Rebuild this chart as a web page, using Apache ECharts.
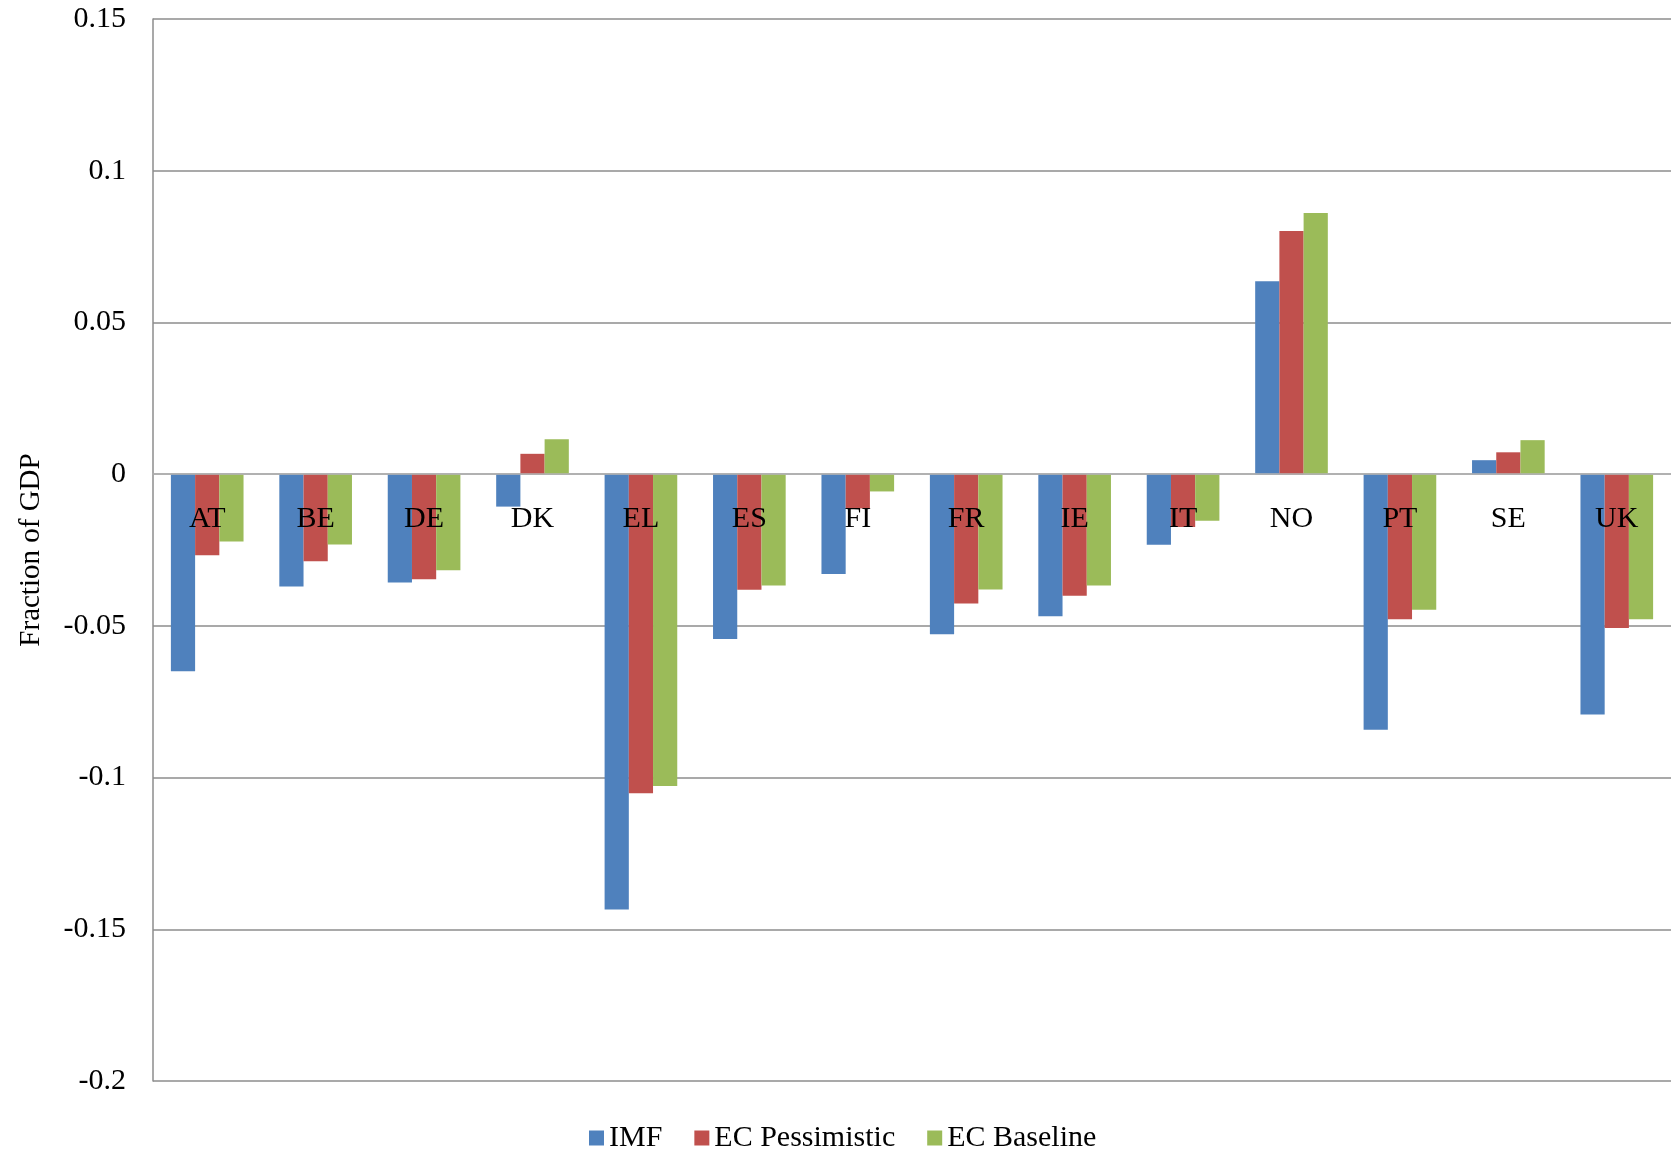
<!DOCTYPE html>
<html>
<head>
<meta charset="utf-8">
<title>Fraction of GDP</title>
<script src="https://cdn.jsdelivr.net/npm/echarts@6/dist/echarts.min.js"></script>
<style>
  html, body { margin: 0; padding: 0; background: #fff; }
  #chart { width: 1671px; height: 1155px; }
</style>
</head>
<body>
<div id="chart"></div>
<script>
// country codes along the x axis
const countries = ['AT', 'BE', 'DE', 'DK', 'EL', 'ES', 'FI', 'FR', 'IE', 'IT', 'NO', 'PT', 'SE', 'UK']

// values (fraction of GDP)
const imf = [-0.065, -0.037, -0.0357, -0.0107, -0.1435, -0.0543, -0.0329, -0.0528, -0.0468, -0.0233, 0.0636, -0.0842, 0.0046, -0.0792]
const ecPessimistic = [-0.0267, -0.0287, -0.0346, 0.0067, -0.1052, -0.0381, -0.0113, -0.0426, -0.0401, -0.0174, 0.0801, -0.0478, 0.0072, -0.0507]
const ecBaseline = [-0.0222, -0.0232, -0.0317, 0.0115, -0.1028, -0.0367, -0.0057, -0.038, -0.0367, -0.0154, 0.0861, -0.0447, 0.0112, -0.0478]

const font = 'Liberation Serif, Times New Roman, serif'

const chart = echarts.init(document.getElementById('chart'))

const option = {
  backgroundColor: '#fff',
  animation: false,
  color: ['#4F81BD', '#C0504D', '#9BBB59'],
  grid: {
    left: 153,
    top: 19,
    bottom: 74,
    right: -5
  },
  legend: {
    left: 584,
    bottom: -3,
    icon: 'rect',
    itemWidth: 15,
    itemHeight: 15,
    itemGap: 32,
    textStyle: {
      fontFamily: font,
      fontSize: 30,
      color: '#000'
    },
    data: ['IMF', 'EC Pessimistic', 'EC Baseline']
  },
  xAxis: {
    type: 'category',
    data: countries,
    z: 10,
    axisTick: { show: false },
    axisLine: {
      onZero: false,
      lineStyle: { color: '#b4b4b4', width: 1.5 }
    },
    axisLabel: {
      color: '#000',
      fontFamily: font,
      fontSize: 30,
      margin: 30
    }
  },
  yAxis: {
    type: 'value',
    min: -0.2,
    max: 0.15,
    interval: 0.05,
    name: 'Fraction of GDP',
    nameLocation: 'middle',
    nameGap: 107,
    nameTextStyle: {
      color: '#000',
      fontFamily: font,
      fontSize: 29
    },
    axisLine: {
      show: true,
      lineStyle: { color: '#8c8c8c', width: 1.5 }
    },
    axisTick: { show: false },
    axisLabel: {
      color: '#000',
      fontFamily: font,
      fontSize: 30,
      margin: 27
    },
    splitLine: {
      lineStyle: { color: '#8c8c8c', width: 1.5 }
    }
  },
  series: [
    {
      name: 'IMF',
      type: 'bar',
      data: imf,
      barGap: '0%',
      barCategoryGap: '33%'
    },
    {
      name: 'EC Pessimistic',
      type: 'bar',
      data: ecPessimistic,
      barGap: '0%',
      barCategoryGap: '33%'
    },
    {
      name: 'EC Baseline',
      type: 'bar',
      data: ecBaseline,
      barGap: '0%',
      barCategoryGap: '33%'
    }
  ]
}

chart.setOption(option)

// put the category axis on the zero line (onZero is not picked up here)
const yZero = chart.convertToPixel({ yAxisIndex: 0 }, 0)
const yBottom = chart.convertToPixel({ yAxisIndex: 0 }, -0.2)
chart.setOption({ xAxis: { offset: yZero - yBottom } })
</script>
</body>
</html>
